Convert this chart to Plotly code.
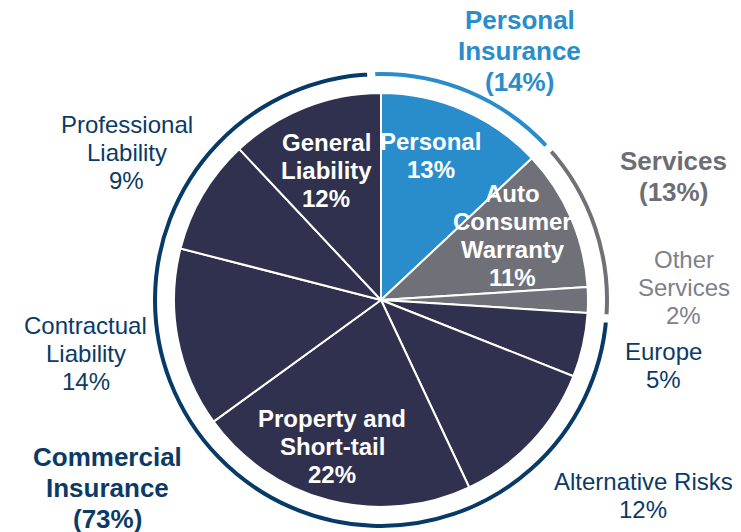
import math
import plotly.graph_objects as go

# ---------------- data ----------------
segments = ["Personal", "Auto Consumer Warranty", "Other Services", "Europe",
            "Alternative Risks", "Property and Short-tail", "Contractual Liability",
            "Professional Liability", "General Liability"]
segment_share = [13, 11, 2, 5, 12, 22, 14, 9, 12]
segment_lines = [["Personal"], ["Auto", "Consumer", "Warranty"], ["Other", "Services"],
                 ["Europe"], ["Alternative Risks"], ["Property and", "Short-tail"],
                 ["Contractual", "Liability"], ["Professional", "Liability"],
                 ["General", "Liability"]]
segment_group = [0, 1, 1, 2, 2, 2, 2, 2, 2]

groups = ["Personal Insurance", "Services", "Commercial Insurance"]
group_lines = [["Personal", "Insurance"], ["Services"], ["Commercial", "Insurance"]]
group_share = [14, 13, 73]

# ---------------- styling ----------------
W, H = 741, 532
OFF = 8                      # page body margin
CX, CY = 381 - OFF, 300 - OFF
R_IN = 207
R_RING = 232
RING_ROT = -2.5

C_PERS = "#2a8dcb"
C_SERV = "#707178"
C_COMM_IN = "#30314f"
C_COMM_RING = "#073a66"
C_LBL = "#0b3a66"
C_SERV_LBL = "#6d6e75"
C_OTHER_LBL = "#808088"

slice_colors = [C_PERS, C_SERV, C_SERV] + [C_COMM_IN] * 6
ring_colors = [C_PERS, C_SERV, C_COMM_RING]

# label placement: (inside?, radius px, angle nudge deg)
seg_label_place = [
    (True, 153, -4.4), (True, 147, -2.8), (False, 303, -2.3), (False, 290, 0.5),
    (False, 327, -6.5), (True, 154, 4.0), (False, 300, 0.6), (False, 294, -0.4),
    (True, 141, -1.3),
]
grp_label_place = [(285, 6.4), (318, -4.2), (332, 9.4)]

FONT = "Liberation Sans, Arial, sans-serif"
SEG_SIZE, SEG_LH = 24, 28
GRP_SIZE, GRP_LH = 26, 31


def dom(r):
    return dict(x=[(CX - r) / W, (CX + r) / W], y=[1 - (CY + r) / H, 1 - (CY - r) / H])


def mids(values, rot=0.0):
    tot = sum(values)
    out, acc = [], 0.0
    for v in values:
        out.append(rot + (acc + v / 2) / tot * 360)
        acc += v
    return out


def polar(r, ang):
    a = math.radians(ang)
    return CX + r * math.sin(a), CY - r * math.cos(a)


def add_block(ann, lines, px, py, lh, font):
    n = len(lines)
    for i, t in enumerate(lines):
        y = py + (i - (n - 1) / 2) * lh
        ann.append(dict(x=px / W, y=1 - y / H, xref="paper", yref="paper", showarrow=False,
                        text=t, xanchor="center", yanchor="middle", font=font))


fig = go.Figure()
fig.add_trace(go.Pie(
    values=segment_share, labels=segments, sort=False, direction="clockwise",
    rotation=0, textinfo="none", hoverinfo="label+percent",
    marker=dict(colors=slice_colors, line=dict(color="white", width=2)),
    domain=dom(R_IN), showlegend=False,
))
ring_dom = dict(x=[(CX - R_RING) / W, (CX + R_RING) / W],
                y=[1 - (CY + R_RING) / H, 1 - (CY - R_RING) / H])
fig.add_trace(go.Pie(
    values=group_share, labels=groups, sort=False, direction="clockwise",
    rotation=RING_ROT, textinfo="none", hole=220 / R_RING, hoverinfo="label+value",
    marker=dict(colors=ring_colors, line=dict(color="white", width=8)),
    domain=ring_dom, showlegend=False,
))

ann = []
for lines, v, (inside, r, nudge), m, gi in zip(segment_lines, segment_share, seg_label_place,
                                               mids(segment_share), segment_group):
    px, py = polar(r, m + nudge)
    if inside:
        font = dict(family=FONT, size=SEG_SIZE, color="white", weight="bold")
    else:
        font = dict(family=FONT, size=SEG_SIZE, color=C_OTHER_LBL if gi == 1 else C_LBL)
    add_block(ann, lines + [f"{v}%"], px, py, SEG_LH, font)

grp_cols = [C_PERS, C_SERV_LBL, C_LBL]
for lines, v, (r, nudge), m, col in zip(group_lines, group_share, grp_label_place,
                                        mids(group_share, RING_ROT), grp_cols):
    px, py = polar(r, m + nudge)
    font = dict(family=FONT, size=GRP_SIZE, color=col, weight="bold")
    add_block(ann, lines + [f"({v}%)"], px, py, GRP_LH, font)

fig.update_layout(width=W, height=H, margin=dict(l=0, r=0, t=0, b=0),
                  paper_bgcolor="white", plot_bgcolor="white", annotations=ann,
                  font=dict(family=FONT))
fig.write_html("out.html")
